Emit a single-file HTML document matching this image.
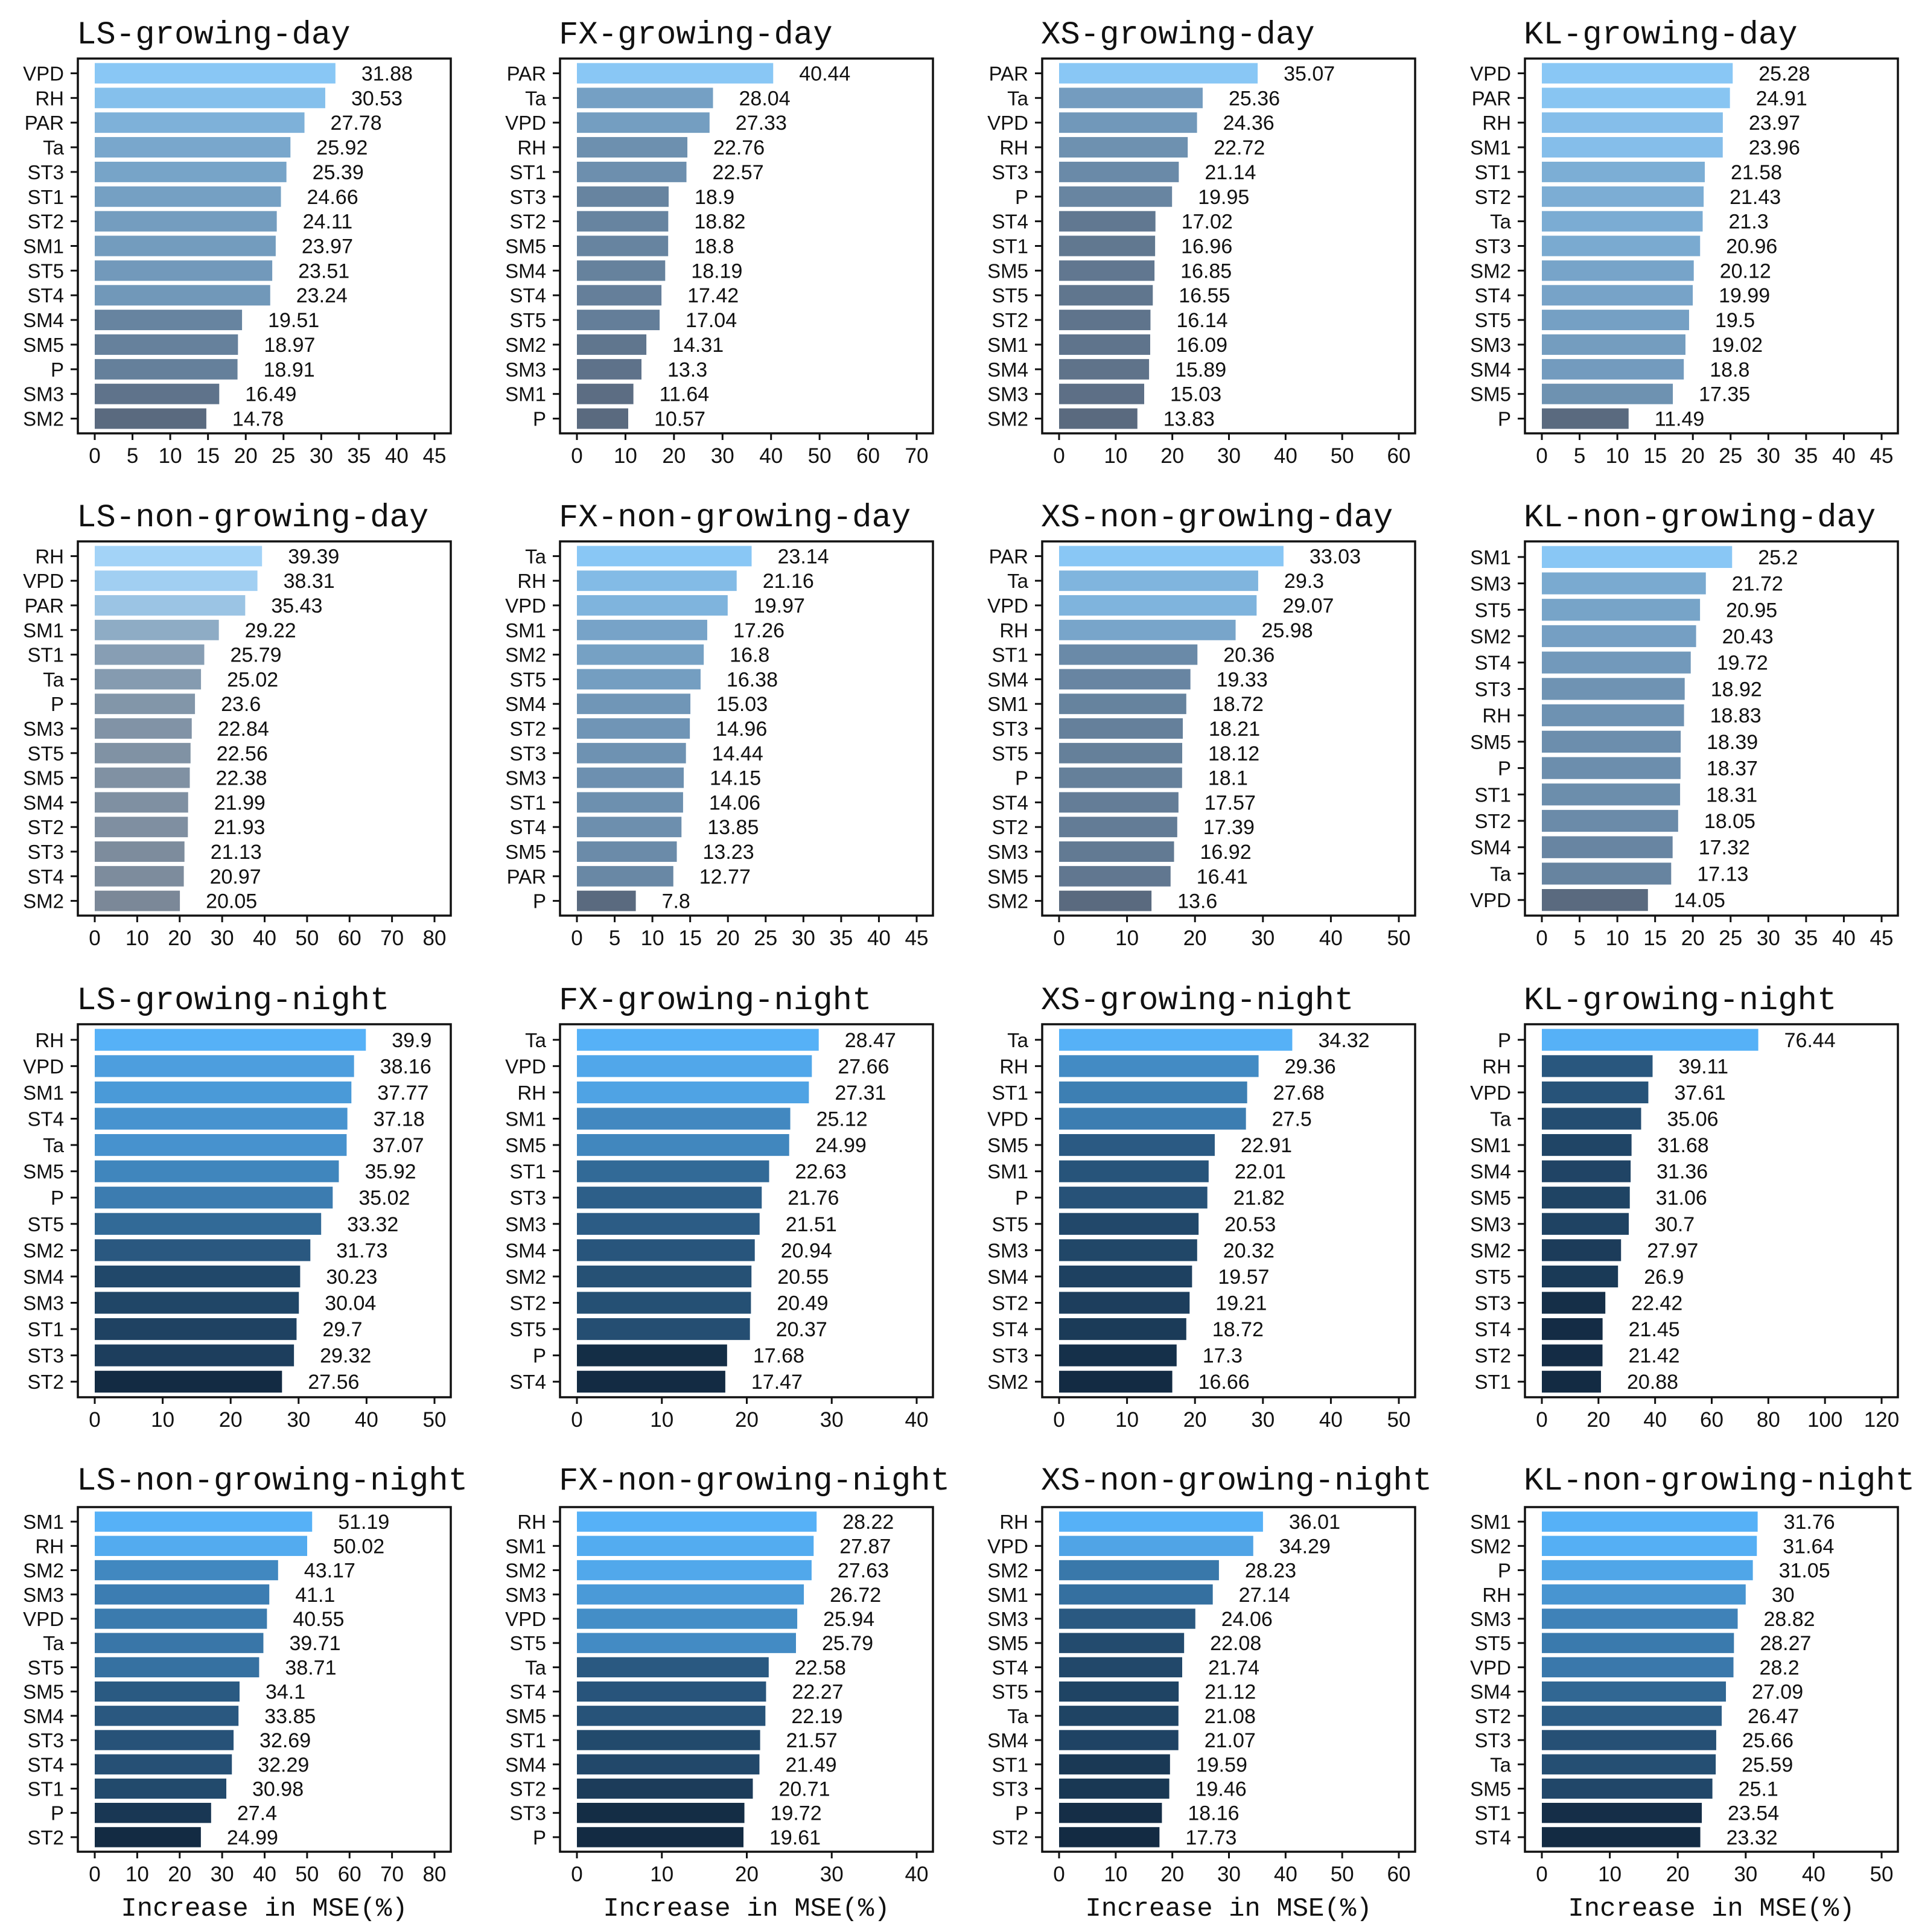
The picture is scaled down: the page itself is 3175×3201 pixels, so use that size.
<!DOCTYPE html>
<html><head><meta charset="utf-8"><style>
html,body{margin:0;padding:0;background:#fff}
svg{display:block}
text{font-family:"Liberation Sans",sans-serif;fill:#111}
.title{font-family:"Liberation Mono",monospace;font-size:54px}
.xt{font-family:"Liberation Mono",monospace;font-size:44px}
</style></head><body>
<svg id="chart" width="3175" height="3201" viewBox="0 0 3175 3201"></svg>
<script>
const lsGdVars=["VPD","RH","PAR","Ta","ST3","ST1","ST2","SM1","ST5","ST4","SM4","SM5","P","SM3","SM2"];
const lsGdVals=[31.88,30.53,27.78,25.92,25.39,24.66,24.11,23.97,23.51,23.24,19.51,18.97,18.91,16.49,14.78];
const fxGdVars=["PAR","Ta","VPD","RH","ST1","ST3","ST2","SM5","SM4","ST4","ST5","SM2","SM3","SM1","P"];
const fxGdVals=[40.44,28.04,27.33,22.76,22.57,18.9,18.82,18.8,18.19,17.42,17.04,14.31,13.3,11.64,10.57];
const xsGdVars=["PAR","Ta","VPD","RH","ST3","P","ST4","ST1","SM5","ST5","ST2","SM1","SM4","SM3","SM2"];
const xsGdVals=[35.07,25.36,24.36,22.72,21.14,19.95,17.02,16.96,16.85,16.55,16.14,16.09,15.89,15.03,13.83];
const klGdVars=["VPD","PAR","RH","SM1","ST1","ST2","Ta","ST3","SM2","ST4","ST5","SM3","SM4","SM5","P"];
const klGdVals=[25.28,24.91,23.97,23.96,21.58,21.43,21.3,20.96,20.12,19.99,19.5,19.02,18.8,17.35,11.49];
const lsNdVars=["RH","VPD","PAR","SM1","ST1","Ta","P","SM3","ST5","SM5","SM4","ST2","ST3","ST4","SM2"];
const lsNdVals=[39.39,38.31,35.43,29.22,25.79,25.02,23.6,22.84,22.56,22.38,21.99,21.93,21.13,20.97,20.05];
const fxNdVars=["Ta","RH","VPD","SM1","SM2","ST5","SM4","ST2","ST3","SM3","ST1","ST4","SM5","PAR","P"];
const fxNdVals=[23.14,21.16,19.97,17.26,16.8,16.38,15.03,14.96,14.44,14.15,14.06,13.85,13.23,12.77,7.8];
const xsNdVars=["PAR","Ta","VPD","RH","ST1","SM4","SM1","ST3","ST5","P","ST4","ST2","SM3","SM5","SM2"];
const xsNdVals=[33.03,29.3,29.07,25.98,20.36,19.33,18.72,18.21,18.12,18.1,17.57,17.39,16.92,16.41,13.6];
const klNdVars=["SM1","SM3","ST5","SM2","ST4","ST3","RH","SM5","P","ST1","ST2","SM4","Ta","VPD"];
const klNdVals=[25.2,21.72,20.95,20.43,19.72,18.92,18.83,18.39,18.37,18.31,18.05,17.32,17.13,14.05];
const lsGnVars=["RH","VPD","SM1","ST4","Ta","SM5","P","ST5","SM2","SM4","SM3","ST1","ST3","ST2"];
const lsGnVals=[39.9,38.16,37.77,37.18,37.07,35.92,35.02,33.32,31.73,30.23,30.04,29.7,29.32,27.56];
const fxGnVars=["Ta","VPD","RH","SM1","SM5","ST1","ST3","SM3","SM4","SM2","ST2","ST5","P","ST4"];
const fxGnVals=[28.47,27.66,27.31,25.12,24.99,22.63,21.76,21.51,20.94,20.55,20.49,20.37,17.68,17.47];
const xsGnVars=["Ta","RH","ST1","VPD","SM5","SM1","P","ST5","SM3","SM4","ST2","ST4","ST3","SM2"];
const xsGnVals=[34.32,29.36,27.68,27.5,22.91,22.01,21.82,20.53,20.32,19.57,19.21,18.72,17.3,16.66];
const klGnVars=["P","RH","VPD","Ta","SM1","SM4","SM5","SM3","SM2","ST5","ST3","ST4","ST2","ST1"];
const klGnVals=[76.44,39.11,37.61,35.06,31.68,31.36,31.06,30.7,27.97,26.9,22.42,21.45,21.42,20.88];
const lsNnVars=["SM1","RH","SM2","SM3","VPD","Ta","ST5","SM5","SM4","ST3","ST4","ST1","P","ST2"];
const lsNnVals=[51.19,50.02,43.17,41.1,40.55,39.71,38.71,34.1,33.85,32.69,32.29,30.98,27.4,24.99];
const fxNnVars=["RH","SM1","SM2","SM3","VPD","ST5","Ta","ST4","SM5","ST1","SM4","ST2","ST3","P"];
const fxNnVals=[28.22,27.87,27.63,26.72,25.94,25.79,22.58,22.27,22.19,21.57,21.49,20.71,19.72,19.61];
const xsNnVars=["RH","VPD","SM2","SM1","SM3","SM5","ST4","ST5","Ta","SM4","ST1","ST3","P","ST2"];
const xsNnVals=[36.01,34.29,28.23,27.14,24.06,22.08,21.74,21.12,21.08,21.07,19.59,19.46,18.16,17.73];
const klNnVars=["SM1","SM2","P","RH","SM3","ST5","VPD","SM4","ST2","ST3","Ta","SM5","ST1","ST4"];
const klNnVals=[31.76,31.64,31.05,30,28.82,28.27,28.2,27.09,26.47,25.66,25.59,25.1,23.54,23.32];

const panelTitles=["LS-growing-day","FX-growing-day","XS-growing-day","KL-growing-day",
"LS-non-growing-day","FX-non-growing-day","XS-non-growing-day","KL-non-growing-day",
"LS-growing-night","FX-growing-night","XS-growing-night","KL-growing-night",
"LS-non-growing-night","FX-non-growing-night","XS-non-growing-night","KL-non-growing-night"];
const tickMaxes=[45,70,60,45, 80,45,50,45, 50,40,50,120, 80,40,60,50];
const tickSteps=[5,10,10,5, 10,5,10,5, 10,10,10,20, 10,10,10,10];
const panelVars=[lsGdVars,fxGdVars,xsGdVars,klGdVars,lsNdVars,fxNdVars,xsNdVars,klNdVars,lsGnVars,fxGnVars,xsGnVars,klGnVars,lsNnVars,fxNnVars,xsNnVars,klNnVars];
const panelVals=[lsGdVals,fxGdVals,xsGdVals,klGdVals,lsNdVals,fxNdVals,xsNdVals,klNdVals,lsGnVals,fxGnVals,xsGnVals,klGnVals,lsNnVals,fxNnVals,xsNnVals,klNnVals];

const NS="http://www.w3.org/2000/svg";
const svg=document.getElementById('chart');
function mk(tag,attrs,parent){const e=document.createElementNS(NS,tag);for(const k in attrs)e.setAttribute(k,attrs[k]);parent.appendChild(e);return e;}
function hex(c){return [parseInt(c.slice(1,3),16),parseInt(c.slice(3,5),16),parseInt(c.slice(5,7),16)];}
function mix(a,b,t){const A=hex(a),B=hex(b);return 'rgb('+A.map((v,i)=>Math.round(v+(B[i]-v)*t)).join(',')+')';}

const colLeft=[129,928,1727,2527], rowTop=[97,897,1697,2497], rowH=[621,620,618,571];
const W=618;
for(let p=0;p<16;p++){
  const r=Math.floor(p/4),c=p%4;
  const L=colLeft[c],T=rowTop[r],H=rowH[r];
  const vars=panelVars[p],vals=panelVals[p];
  const tmax=tickMaxes[p],step=tickSteps[p];
  const x0=L+28;
  const xs=v=>x0+v*563/tmax;
  const n=vals.length;
  const band=(H-8)/n, bh=band*0.83, yTop=T+4;
  const yc=i=>yTop+band*(i+0.5);
  let light,dark;
  if(r>=2){light="#56b1f7";dark="#132b43";}
  else if(p===4){light="#a3d3f7";dark="#7b8898";}
  else{light="#89c7f5";dark="#5a6a7f";}
  const vmin=Math.min(...vals),vmax=Math.max(...vals);
  const g=mk('g',{},svg);
  
  
  const t=mk('text',{x:L-2,y:T-(r===3?29:25),class:'title'},g);t.textContent=panelTitles[p];
  
  
  for(let i=0;i<n;i++){
    const tt=(vals[i]-vmin)/((vmax-vmin)||1);
    const b=mk('rect',{x:x0,y:yc(i)-bh/2,width:Math.max(0,xs(vals[i])-x0),height:bh,fill:mix(dark,light,tt)},g);
    
    
    const lb=mk('text',{x:xs(vals[i])+43,y:yc(i)+12,'font-size':34},g);lb.textContent=String(vals[i]);
    
    
    const yl=mk('text',{x:L-23,y:yc(i)+12,'font-size':33,'text-anchor':'end'},g);yl.textContent=vars[i];
    
    
    mk('line',{x1:L-12,x2:L,y1:yc(i),y2:yc(i),stroke:'#111','stroke-width':3},g);
  }
  for(let v=0;v<=tmax+1e-9;v+=step){
    mk('line',{x1:xs(v),x2:xs(v),y1:T+H,y2:T+H+11,stroke:'#111','stroke-width':3},g);
    const tl=mk('text',{x:xs(v),y:T+H+49,'font-size':35,'text-anchor':'middle'},g);tl.textContent=String(v);
    
    
  }
  const fr=mk('rect',{x:L,y:T,width:W,height:H,fill:'none',stroke:'#111','stroke-width':3.5},g);
  
  
  if(r===3){
    const xt=mk('text',{x:L+W/2,y:T+H+106,class:'xt','text-anchor':'middle'},g);xt.textContent="Increase in MSE(%)";
    
    
  }
}
</script>
</body></html>
